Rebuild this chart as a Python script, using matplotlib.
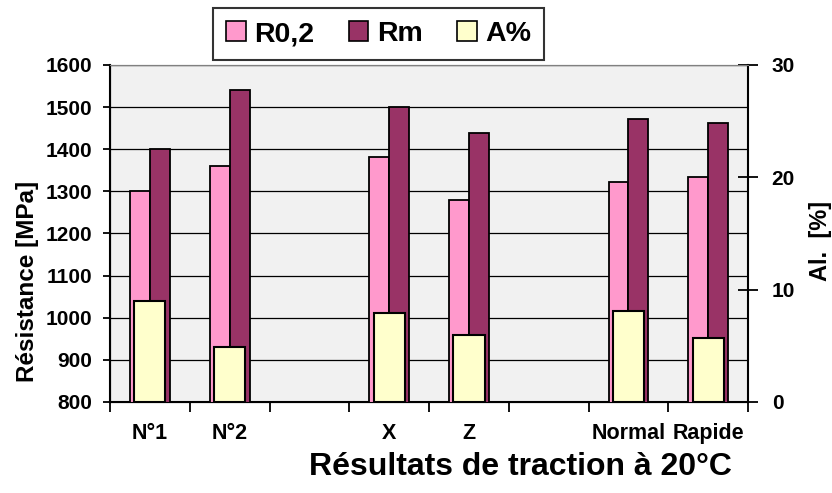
import numpy as np
import matplotlib
matplotlib.use("Agg")
import matplotlib.pyplot as plt
from matplotlib.patches import Patch

plt.rcParams['font.family'] = ['Liberation Sans', 'DejaVu Sans']
plt.rcParams['font.weight'] = 'bold'

# Données (cases vides = emplacements sans essai)
categories = ["N°1", "N°2", "", "X", "Z", "", "Normal", "Rapide"]
r02 = [1300, 1360, None, 1382, 1280, None, 1322, 1335]
rm = [1400, 1540, None, 1500, 1438, None, 1471, 1463]
a_pct = [9.0, 4.9, None, 7.95, 6.0, None, 8.1, 5.7]

COR_R02 = "#FF99CC"
COR_RM = "#993366"
COR_A = "#FFFFCC"

fig = plt.figure(figsize=(8.32, 4.93), dpi=100)
ax = fig.add_axes([0.1322, 0.1846, 0.767, 0.6836])
ax2 = ax.twinx()

pos = [i for i, c in enumerate(categories) if c]
x = np.array(pos, dtype=float)
v_r02 = [r02[i] for i in pos]
v_rm = [rm[i] for i in pos]
v_a = [a_pct[i] for i in pos]

w = 0.25
ax.bar(x - w / 2, v_r02, width=w, color=COR_R02, edgecolor="black", linewidth=1.3, zorder=3)
ax.bar(x + w / 2, v_rm, width=w, color=COR_RM, edgecolor="black", linewidth=1.3, zorder=3)
ax2.bar(x, v_a, width=0.39, color=COR_A, edgecolor="black", linewidth=1.5, zorder=3)

ax.set_xlim(-0.5, len(categories) - 0.5)
ax.set_ylim(800, 1600)
ax2.set_ylim(0, 30)
ax.set_facecolor("#F1F1F1")
ax.set_axisbelow(True)
ax.grid(axis="y", color="black", linewidth=0.9)

ax.set_yticks(np.arange(800, 1601, 100))
ax2.set_yticks([0, 10, 20, 30])

# ticks aux frontières, libellés au centre
ax.set_xticks(np.arange(-0.5, len(categories), 1.0))
ax.set_xticklabels([])
ax.set_xticks(np.arange(len(categories)), minor=True)
ax.set_xticklabels(categories, minor=True)
ax.tick_params(axis="x", which="major", direction="out", length=7, width=1.3)
ax.tick_params(axis="x", which="minor", length=0, pad=15, labelsize=15.5)
ax.tick_params(axis="y", direction="out", length=5, width=1.3, pad=8, labelsize=15)
ax2.tick_params(axis="y", direction="inout", length=14, width=1.3, pad=10, labelsize=15)

for sp in ["left", "bottom"]:
    ax.spines[sp].set_linewidth(1.5)
ax.spines["top"].set_color("#808080")
ax2.spines["top"].set_color("#808080")
ax2.spines["right"].set_linewidth(1.5)
ax.spines["right"].set_visible(False)

fig.text(0.033, 0.43, "Résistance [MPa]", rotation=90, ha="center", va="center",
         fontsize=17.5, fontweight="bold")
fig.text(0.986, 0.511, "Al.  [%]", rotation=90, ha="center", va="center",
         fontsize=17, fontweight="bold")
fig.text(0.626, 0.052, "Résultats de traction à 20°C", ha="center", va="center",
         fontsize=23, fontweight="bold")

handles = [
    Patch(facecolor=COR_R02, edgecolor="black", linewidth=1.2, label="R0,2"),
    Patch(facecolor=COR_RM, edgecolor="black", linewidth=1.2, label="Rm"),
    Patch(facecolor=COR_A, edgecolor="black", linewidth=1.2, label="A%"),
]
leg = fig.legend(handles=handles, ncol=3, loc="center", bbox_to_anchor=(0.455, 0.931),
                 fontsize=20.5, frameon=True, fancybox=False, edgecolor="black",
                 handlelength=0.7, handleheight=0.7, handletextpad=0.3,
                 columnspacing=1.2, borderpad=0.45)
leg.get_frame().set_linewidth(1.5)

fig.savefig("out.png", dpi=100)
